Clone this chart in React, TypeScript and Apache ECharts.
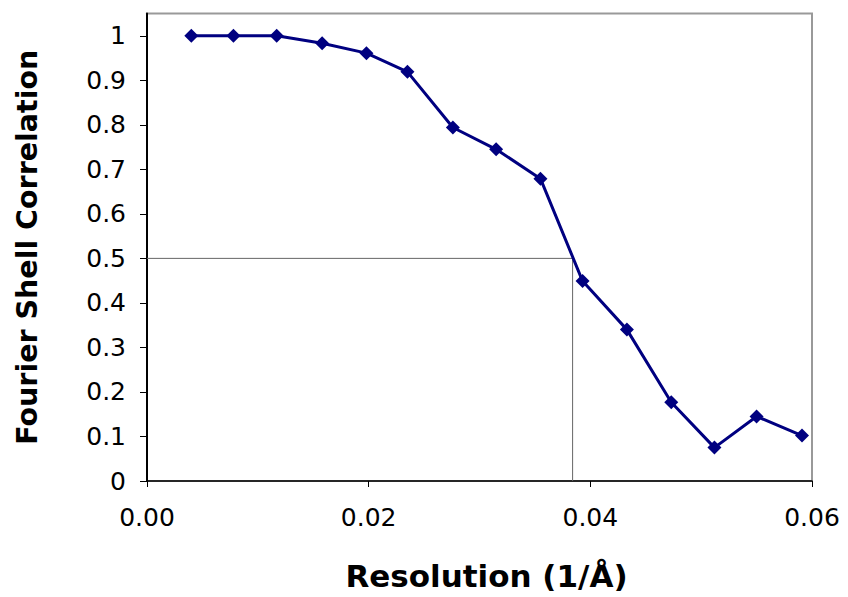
import React, { useEffect, useRef } from "react";
import * as echarts from "echarts";

const resolution = [0.0040, 0.0078, 0.0117, 0.0158, 0.0198, 0.0235, 0.0276, 0.0315, 0.0355, 0.0393, 0.0433, 0.0473, 0.0512, 0.0550, 0.0591];
const fsc = [1.0, 1.0, 1.0, 0.983, 0.961, 0.919, 0.794, 0.745, 0.679, 0.449, 0.340, 0.177, 0.075, 0.145, 0.102];
const threshold = 0.5;
const thresholdResolution = 0.0384;
const xTicks = [0, 0.02, 0.04, 0.06];
const yTicks = [0, 0.1, 0.2, 0.3, 0.4, 0.5, 0.6, 0.7, 0.8, 0.9, 1];

export default function App() {
  const ref = useRef<HTMLDivElement>(null);
  useEffect(() => {
    if (!ref.current) return;
    const chart = echarts.init(ref.current, null, { renderer: "svg" });
    const font = "DejaVu Sans";
    chart.setOption({
      animation: false,
      backgroundColor: "#ffffff",
      grid: {
        left: 147,
        right: 36,
        top: 13.5,
        bottom: 116,
        show: true,
        borderColor: "#999999",
        borderWidth: 2,
        backgroundColor: "transparent",
      },
      xAxis: {
        type: "value",
        min: xTicks[0],
        max: xTicks[xTicks.length - 1],
        interval: 0.02,
        name: "Resolution (1/Å)",
        nameLocation: "middle",
        nameGap: 79,
        nameTextStyle: { fontFamily: font, fontWeight: "bold", fontSize: 31, color: "#000", padding: [0, 0, 0, 14] },
        axisLine: { show: true, onZero: false, lineStyle: { color: "#000", width: 1.5 } },
        axisTick: { show: true, inside: false, length: 6, lineStyle: { color: "#000", width: 1 } },
        axisLabel: {
          margin: 24,
          fontFamily: font,
          fontSize: 25,
          color: "#000",
          formatter: (v: number) => v.toFixed(2),
        },
        splitLine: { show: false },
      },
      yAxis: {
        type: "value",
        min: yTicks[0],
        max: 1.05,
        interval: 0.1,
        name: "Fourier Shell Correlation",
        nameLocation: "middle",
        nameGap: 105,
        nameTextStyle: { fontFamily: font, fontWeight: "bold", fontSize: 28.5, color: "#000" },
        axisLine: { show: true, onZero: false, lineStyle: { color: "#000", width: 2 } },
        axisTick: { show: true, inside: false, length: 7, lineStyle: { color: "#000", width: 1 } },
        axisLabel: {
          margin: 21,
          fontFamily: font,
          fontSize: 25,
          color: "#000",
          showMaxLabel: false,
          formatter: (v: number) => {
            const r = Math.round(v * 10) / 10;
            return yTicks.includes(r) ? String(r) : "";
          },
        },
        splitLine: { show: false },
      },
      series: [
        {
          type: "line",
          data: [
            [xTicks[0], threshold],
            [thresholdResolution, threshold],
            [thresholdResolution, yTicks[0]],
          ],
          symbol: "none",
          lineStyle: { color: "#666666", width: 1 },
          z: 1,
          silent: true,
        },
        {
          type: "line",
          data: resolution.map((x, i) => [x, fsc[i]]),
          symbol: "diamond",
          symbolSize: 14,
          itemStyle: { color: "#000080" },
          lineStyle: { color: "#000080", width: 3 },
          z: 3,
        },
      ],
    });
    return () => chart.dispose();
  }, []);
  return (
    <div
      ref={ref}
      style={{ position: "absolute", left: 0, top: 0, width: 848, height: 597 }}
    />
  );
}
